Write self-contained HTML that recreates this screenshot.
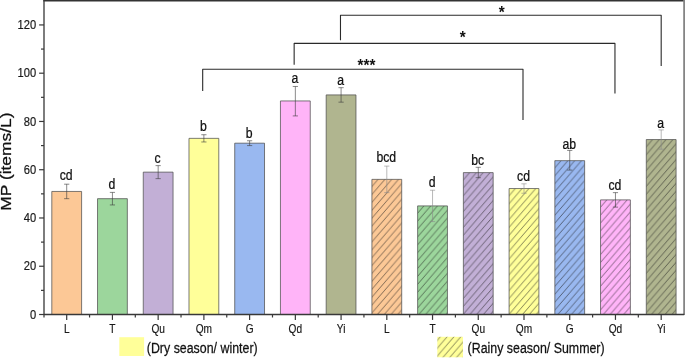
<!DOCTYPE html>
<html><head><meta charset="utf-8"><title>MP chart</title><style>html,body{margin:0;padding:0;background:#fff}svg{display:block}</style></head><body>
<svg width="685" height="358" viewBox="0 0 685 358" font-family="Liberation Sans, Arial, sans-serif" stroke-linejoin="round">
<defs>
<pattern id="h7" patternUnits="userSpaceOnUse" patternTransform="translate(378.11,179.37)" width="6.8" height="7.9"><rect width="6.8" height="7.9" fill="#FCC896"/><path d="M-1,9.06 L7.8,-1.16 M-7.8,9.06 L1,-1.16 M5.8,9.06 L14.6,-1.16" stroke="#1a1a1a" stroke-width="0.55" fill="none"/></pattern>
<pattern id="h8" patternUnits="userSpaceOnUse" patternTransform="translate(423.84,205.92)" width="6.8" height="7.9"><rect width="6.8" height="7.9" fill="#9CD69C"/><path d="M-1,9.06 L7.8,-1.16 M-7.8,9.06 L1,-1.16 M5.8,9.06 L14.6,-1.16" stroke="#1a1a1a" stroke-width="0.55" fill="none"/></pattern>
<pattern id="h9" patternUnits="userSpaceOnUse" patternTransform="translate(469.57,172.62)" width="6.8" height="7.9"><rect width="6.8" height="7.9" fill="#C2AFD6"/><path d="M-1,9.06 L7.8,-1.16 M-7.8,9.06 L1,-1.16 M5.8,9.06 L14.6,-1.16" stroke="#1a1a1a" stroke-width="0.55" fill="none"/></pattern>
<pattern id="h10" patternUnits="userSpaceOnUse" patternTransform="translate(515.30,188.54)" width="6.8" height="7.9"><rect width="6.8" height="7.9" fill="#FFFF99"/><path d="M-1,9.06 L7.8,-1.16 M-7.8,9.06 L1,-1.16 M5.8,9.06 L14.6,-1.16" stroke="#1a1a1a" stroke-width="0.55" fill="none"/></pattern>
<pattern id="h11" patternUnits="userSpaceOnUse" patternTransform="translate(561.03,160.67)" width="6.8" height="7.9"><rect width="6.8" height="7.9" fill="#99B8F0"/><path d="M-1,9.06 L7.8,-1.16 M-7.8,9.06 L1,-1.16 M5.8,9.06 L14.6,-1.16" stroke="#1a1a1a" stroke-width="0.55" fill="none"/></pattern>
<pattern id="h12" patternUnits="userSpaceOnUse" patternTransform="translate(606.76,199.88)" width="6.8" height="7.9"><rect width="6.8" height="7.9" fill="#FFB4F8"/><path d="M-1,9.06 L7.8,-1.16 M-7.8,9.06 L1,-1.16 M5.8,9.06 L14.6,-1.16" stroke="#1a1a1a" stroke-width="0.55" fill="none"/></pattern>
<pattern id="h13" patternUnits="userSpaceOnUse" patternTransform="translate(652.49,139.56)" width="6.8" height="7.9"><rect width="6.8" height="7.9" fill="#B0B58F"/><path d="M-1,9.06 L7.8,-1.16 M-7.8,9.06 L1,-1.16 M5.8,9.06 L14.6,-1.16" stroke="#1a1a1a" stroke-width="0.55" fill="none"/></pattern>
<pattern id="hl" patternUnits="userSpaceOnUse" patternTransform="translate(440.30,336.80)" width="6.8" height="7.9"><rect width="6.8" height="7.9" fill="#FFFF99"/><path d="M-1,9.06 L7.8,-1.16 M-7.8,9.06 L1,-1.16 M5.8,9.06 L14.6,-1.16" stroke="#1a1a1a" stroke-width="0.55" fill="none"/></pattern>
</defs>
<rect width="685" height="358" fill="#fff"/>
<rect x="51.80" y="191.44" width="29.8" height="123.06" fill="#FCC896" stroke="#505050" stroke-width="0.75"/>
<path d="M66.70,184.20 V198.68 M64.10,184.20 H69.30 M64.10,198.68 H69.30" stroke="#3a3a3a" stroke-width="0.6" fill="none"/>
<text transform="translate(66.20,180.40) scale(0.845,1)" text-anchor="middle" font-size="14.5" fill="#111" stroke="#111" stroke-width="0.25">cd</text>
<rect x="97.53" y="198.68" width="29.8" height="115.82" fill="#9CD69C" stroke="#505050" stroke-width="0.75"/>
<path d="M112.43,192.40 V204.95 M109.83,192.40 H115.03 M109.83,204.95 H115.03" stroke="#3a3a3a" stroke-width="0.6" fill="none"/>
<text transform="translate(111.93,189.20) scale(0.845,1)" text-anchor="middle" font-size="14.5" fill="#111" stroke="#111" stroke-width="0.25">d</text>
<rect x="143.26" y="172.13" width="29.8" height="142.37" fill="#C2AFD6" stroke="#505050" stroke-width="0.75"/>
<path d="M158.16,165.62 V178.65 M155.56,165.62 H160.76 M155.56,178.65 H160.76" stroke="#3a3a3a" stroke-width="0.6" fill="none"/>
<text transform="translate(157.66,162.60) scale(0.845,1)" text-anchor="middle" font-size="14.5" fill="#111" stroke="#111" stroke-width="0.25">c</text>
<rect x="188.99" y="138.35" width="29.8" height="176.15" fill="#FFFF99" stroke="#505050" stroke-width="0.75"/>
<path d="M203.89,134.73 V141.97 M201.29,134.73 H206.49 M201.29,141.97 H206.49" stroke="#3a3a3a" stroke-width="0.6" fill="none"/>
<text transform="translate(203.39,131.10) scale(0.845,1)" text-anchor="middle" font-size="14.5" fill="#111" stroke="#111" stroke-width="0.25">b</text>
<rect x="234.72" y="143.18" width="29.8" height="171.32" fill="#99B8F0" stroke="#505050" stroke-width="0.75"/>
<path d="M249.62,140.76 V145.59 M247.02,140.76 H252.22 M247.02,145.59 H252.22" stroke="#3a3a3a" stroke-width="0.6" fill="none"/>
<text transform="translate(249.12,137.60) scale(0.845,1)" text-anchor="middle" font-size="14.5" fill="#111" stroke="#111" stroke-width="0.25">b</text>
<rect x="280.45" y="100.95" width="29.8" height="213.55" fill="#FFB4F8" stroke="#505050" stroke-width="0.75"/>
<path d="M295.35,86.47 V115.91 M292.75,86.47 H297.95 M292.75,115.91 H297.95" stroke="#3a3a3a" stroke-width="0.6" fill="none"/>
<text transform="translate(294.85,82.90) scale(0.845,1)" text-anchor="middle" font-size="14.5" fill="#111" stroke="#111" stroke-width="0.25">a</text>
<rect x="326.18" y="94.92" width="29.8" height="219.58" fill="#B0B58F" stroke="#505050" stroke-width="0.75"/>
<path d="M341.08,87.68 V102.16 M338.48,87.68 H343.68 M338.48,102.16 H343.68" stroke="#3a3a3a" stroke-width="0.6" fill="none"/>
<text transform="translate(340.58,84.50) scale(0.845,1)" text-anchor="middle" font-size="14.5" fill="#111" stroke="#111" stroke-width="0.25">a</text>
<rect x="371.91" y="179.37" width="29.8" height="135.13" fill="url(#h7)" stroke="#505050" stroke-width="0.75"/>
<path d="M386.81,166.10 V192.64 M384.21,166.10 H389.41 M384.21,192.64 H389.41" stroke="#8a8a8a" stroke-width="0.6" fill="none"/>
<text transform="translate(386.31,162.30) scale(0.845,1)" text-anchor="middle" font-size="14.5" fill="#111" stroke="#111" stroke-width="0.25">bcd</text>
<rect x="417.64" y="205.92" width="29.8" height="108.58" fill="url(#h8)" stroke="#505050" stroke-width="0.75"/>
<path d="M432.54,190.23 V221.60 M429.94,190.23 H435.14 M429.94,221.60 H435.14" stroke="#8a8a8a" stroke-width="0.6" fill="none"/>
<text transform="translate(432.04,186.90) scale(0.845,1)" text-anchor="middle" font-size="14.5" fill="#111" stroke="#111" stroke-width="0.25">d</text>
<rect x="463.37" y="172.62" width="29.8" height="141.88" fill="url(#h9)" stroke="#505050" stroke-width="0.75"/>
<path d="M478.27,167.31 V177.68 M475.67,167.31 H480.87 M475.67,177.68 H480.87" stroke="#3a3a3a" stroke-width="0.6" fill="none"/>
<text transform="translate(477.77,164.80) scale(0.845,1)" text-anchor="middle" font-size="14.5" fill="#111" stroke="#111" stroke-width="0.25">bc</text>
<rect x="509.10" y="188.54" width="29.8" height="125.96" fill="url(#h10)" stroke="#505050" stroke-width="0.75"/>
<path d="M524.00,183.84 V193.25 M521.40,183.84 H526.60 M521.40,193.25 H526.60" stroke="#8a8a8a" stroke-width="0.6" fill="none"/>
<text transform="translate(523.50,181.00) scale(0.845,1)" text-anchor="middle" font-size="14.5" fill="#111" stroke="#111" stroke-width="0.25">cd</text>
<rect x="554.83" y="160.67" width="29.8" height="153.83" fill="url(#h11)" stroke="#505050" stroke-width="0.75"/>
<path d="M569.73,150.42 V170.08 M567.13,150.42 H572.33 M567.13,170.08 H572.33" stroke="#3a3a3a" stroke-width="0.6" fill="none"/>
<text transform="translate(569.23,149.00) scale(0.845,1)" text-anchor="middle" font-size="14.5" fill="#111" stroke="#111" stroke-width="0.25">ab</text>
<rect x="600.56" y="199.88" width="29.8" height="114.62" fill="url(#h12)" stroke="#505050" stroke-width="0.75"/>
<path d="M615.46,192.64 V207.12 M612.86,192.64 H618.06 M612.86,207.12 H618.06" stroke="#3a3a3a" stroke-width="0.6" fill="none"/>
<text transform="translate(614.96,190.10) scale(0.845,1)" text-anchor="middle" font-size="14.5" fill="#111" stroke="#111" stroke-width="0.25">cd</text>
<rect x="646.29" y="139.56" width="29.8" height="174.94" fill="url(#h13)" stroke="#505050" stroke-width="0.75"/>
<path d="M661.19,129.91 V149.21 M658.59,129.91 H663.79 M658.59,149.21 H663.79" stroke="#8a8a8a" stroke-width="0.6" fill="none"/>
<text transform="translate(660.69,127.70) scale(0.845,1)" text-anchor="middle" font-size="14.5" fill="#111" stroke="#111" stroke-width="0.25">a</text>
<path d="M43.35,0.7 H685" fill="none" stroke="#333" stroke-width="1.5"/>
<path d="M684.2,0 V315.1" fill="none" stroke="#858585" stroke-width="2"/>
<path d="M44.0,0 V314.5 H684.2" fill="none" stroke="#383838" stroke-width="1.3"/>
<path d="M39.1,314.50 H44.0" stroke="#383838" stroke-width="1.2"/>
<text transform="translate(36.10,318.70) scale(0.9,1)" text-anchor="end" font-size="12.4" fill="#1a1a1a" stroke="#1a1a1a" stroke-width="0.2">0</text>
<path d="M41.0,290.37 H44.0" stroke="#383838" stroke-width="1.2"/>
<path d="M39.1,266.24 H44.0" stroke="#383838" stroke-width="1.2"/>
<text transform="translate(36.10,270.44) scale(0.9,1)" text-anchor="end" font-size="12.4" fill="#1a1a1a" stroke="#1a1a1a" stroke-width="0.2">20</text>
<path d="M41.0,242.11 H44.0" stroke="#383838" stroke-width="1.2"/>
<path d="M39.1,217.98 H44.0" stroke="#383838" stroke-width="1.2"/>
<text transform="translate(36.10,222.18) scale(0.9,1)" text-anchor="end" font-size="12.4" fill="#1a1a1a" stroke="#1a1a1a" stroke-width="0.2">40</text>
<path d="M41.0,193.85 H44.0" stroke="#383838" stroke-width="1.2"/>
<path d="M39.1,169.72 H44.0" stroke="#383838" stroke-width="1.2"/>
<text transform="translate(36.10,173.92) scale(0.9,1)" text-anchor="end" font-size="12.4" fill="#1a1a1a" stroke="#1a1a1a" stroke-width="0.2">60</text>
<path d="M41.0,145.59 H44.0" stroke="#383838" stroke-width="1.2"/>
<path d="M39.1,121.46 H44.0" stroke="#383838" stroke-width="1.2"/>
<text transform="translate(36.10,125.66) scale(0.9,1)" text-anchor="end" font-size="12.4" fill="#1a1a1a" stroke="#1a1a1a" stroke-width="0.2">80</text>
<path d="M41.0,97.33 H44.0" stroke="#383838" stroke-width="1.2"/>
<path d="M39.1,73.20 H44.0" stroke="#383838" stroke-width="1.2"/>
<text transform="translate(36.10,77.40) scale(0.9,1)" text-anchor="end" font-size="12.4" fill="#1a1a1a" stroke="#1a1a1a" stroke-width="0.2">100</text>
<path d="M41.0,49.07 H44.0" stroke="#383838" stroke-width="1.2"/>
<path d="M39.1,24.94 H44.0" stroke="#383838" stroke-width="1.2"/>
<text transform="translate(36.10,29.14) scale(0.9,1)" text-anchor="end" font-size="12.4" fill="#1a1a1a" stroke="#1a1a1a" stroke-width="0.2">120</text>
<path d="M66.70,314.5 V319.9" stroke="#383838" stroke-width="1.2"/>
<path d="M44.00,314.5 V317.5" stroke="#383838" stroke-width="1.2"/>
<text transform="translate(66.70,332.6) scale(0.83,1)" text-anchor="middle" font-size="12.2" fill="#1a1a1a" stroke="#1a1a1a" stroke-width="0.2">L</text>
<path d="M112.43,314.5 V319.9" stroke="#383838" stroke-width="1.2"/>
<path d="M89.56,314.5 V317.5" stroke="#383838" stroke-width="1.2"/>
<text transform="translate(112.43,332.6) scale(0.83,1)" text-anchor="middle" font-size="12.2" fill="#1a1a1a" stroke="#1a1a1a" stroke-width="0.2">T</text>
<path d="M158.16,314.5 V319.9" stroke="#383838" stroke-width="1.2"/>
<path d="M135.30,314.5 V317.5" stroke="#383838" stroke-width="1.2"/>
<text transform="translate(158.16,332.6) scale(0.83,1)" text-anchor="middle" font-size="12.2" fill="#1a1a1a" stroke="#1a1a1a" stroke-width="0.2">Qu</text>
<path d="M203.89,314.5 V319.9" stroke="#383838" stroke-width="1.2"/>
<path d="M181.02,314.5 V317.5" stroke="#383838" stroke-width="1.2"/>
<text transform="translate(203.89,332.6) scale(0.83,1)" text-anchor="middle" font-size="12.2" fill="#1a1a1a" stroke="#1a1a1a" stroke-width="0.2">Qm</text>
<path d="M249.62,314.5 V319.9" stroke="#383838" stroke-width="1.2"/>
<path d="M226.75,314.5 V317.5" stroke="#383838" stroke-width="1.2"/>
<text transform="translate(249.62,332.6) scale(0.83,1)" text-anchor="middle" font-size="12.2" fill="#1a1a1a" stroke="#1a1a1a" stroke-width="0.2">G</text>
<path d="M295.35,314.5 V319.9" stroke="#383838" stroke-width="1.2"/>
<path d="M272.49,314.5 V317.5" stroke="#383838" stroke-width="1.2"/>
<text transform="translate(295.35,332.6) scale(0.83,1)" text-anchor="middle" font-size="12.2" fill="#1a1a1a" stroke="#1a1a1a" stroke-width="0.2">Qd</text>
<path d="M341.08,314.5 V319.9" stroke="#383838" stroke-width="1.2"/>
<path d="M318.21,314.5 V317.5" stroke="#383838" stroke-width="1.2"/>
<text transform="translate(341.08,332.6) scale(0.83,1)" text-anchor="middle" font-size="12.2" fill="#1a1a1a" stroke="#1a1a1a" stroke-width="0.2">Yi</text>
<path d="M386.81,314.5 V319.9" stroke="#383838" stroke-width="1.2"/>
<path d="M363.94,314.5 V317.5" stroke="#383838" stroke-width="1.2"/>
<text transform="translate(386.81,332.6) scale(0.83,1)" text-anchor="middle" font-size="12.2" fill="#1a1a1a" stroke="#1a1a1a" stroke-width="0.2">L</text>
<path d="M432.54,314.5 V319.9" stroke="#383838" stroke-width="1.2"/>
<path d="M409.67,314.5 V317.5" stroke="#383838" stroke-width="1.2"/>
<text transform="translate(432.54,332.6) scale(0.83,1)" text-anchor="middle" font-size="12.2" fill="#1a1a1a" stroke="#1a1a1a" stroke-width="0.2">T</text>
<path d="M478.27,314.5 V319.9" stroke="#383838" stroke-width="1.2"/>
<path d="M455.40,314.5 V317.5" stroke="#383838" stroke-width="1.2"/>
<text transform="translate(478.27,332.6) scale(0.83,1)" text-anchor="middle" font-size="12.2" fill="#1a1a1a" stroke="#1a1a1a" stroke-width="0.2">Qu</text>
<path d="M524.00,314.5 V319.9" stroke="#383838" stroke-width="1.2"/>
<path d="M501.13,314.5 V317.5" stroke="#383838" stroke-width="1.2"/>
<text transform="translate(524.00,332.6) scale(0.83,1)" text-anchor="middle" font-size="12.2" fill="#1a1a1a" stroke="#1a1a1a" stroke-width="0.2">Qm</text>
<path d="M569.73,314.5 V319.9" stroke="#383838" stroke-width="1.2"/>
<path d="M546.87,314.5 V317.5" stroke="#383838" stroke-width="1.2"/>
<text transform="translate(569.73,332.6) scale(0.83,1)" text-anchor="middle" font-size="12.2" fill="#1a1a1a" stroke="#1a1a1a" stroke-width="0.2">G</text>
<path d="M615.46,314.5 V319.9" stroke="#383838" stroke-width="1.2"/>
<path d="M592.60,314.5 V317.5" stroke="#383838" stroke-width="1.2"/>
<text transform="translate(615.46,332.6) scale(0.83,1)" text-anchor="middle" font-size="12.2" fill="#1a1a1a" stroke="#1a1a1a" stroke-width="0.2">Qd</text>
<path d="M661.19,314.5 V319.9" stroke="#383838" stroke-width="1.2"/>
<path d="M638.33,314.5 V317.5" stroke="#383838" stroke-width="1.2"/>
<text transform="translate(661.19,332.6) scale(0.83,1)" text-anchor="middle" font-size="12.2" fill="#1a1a1a" stroke="#1a1a1a" stroke-width="0.2">Yi</text>
<text transform="translate(11.0,161.6) rotate(-90) scale(1,0.85)" text-anchor="middle" font-size="17.4" fill="#111" stroke="#111" stroke-width="0.3">MP (items/L)</text>
<path d="M202.69,91.0 V69.2 H523.00 V120.0" fill="none" stroke="#2a2a2a" stroke-width="1.1"/>
<text transform="translate(366.5,70.8) scale(0.9,1)" text-anchor="middle" font-size="17" font-weight="bold" fill="#111">***</text>
<path d="M294.15,64.8 V43.4 H614.96 V93.6" fill="none" stroke="#2a2a2a" stroke-width="1.1"/>
<text transform="translate(462.8,42.9) scale(0.9,1)" text-anchor="middle" font-size="17" font-weight="bold" fill="#111">*</text>
<path d="M340.48,40.2 V15.3 H661.19 V66.0" fill="none" stroke="#2a2a2a" stroke-width="1.1"/>
<text transform="translate(501.6,17.9) scale(0.9,1)" text-anchor="middle" font-size="17" font-weight="bold" fill="#111">*</text>
<rect x="119.3" y="337.2" width="24.8" height="18.8" fill="#FFFF99"/>
<text transform="translate(146.8,353) scale(0.838,1)" font-size="14.8" fill="#111" stroke="#111" stroke-width="0.25">(Dry season/ winter)</text>
<rect x="437.3" y="336.8" width="25.7" height="20.5" fill="url(#hl)"/>
<text transform="translate(467.6,352.8) scale(0.838,1)" font-size="14.8" fill="#111" stroke="#111" stroke-width="0.25">(Rainy season/ Summer)</text>
</svg>
</body></html>
